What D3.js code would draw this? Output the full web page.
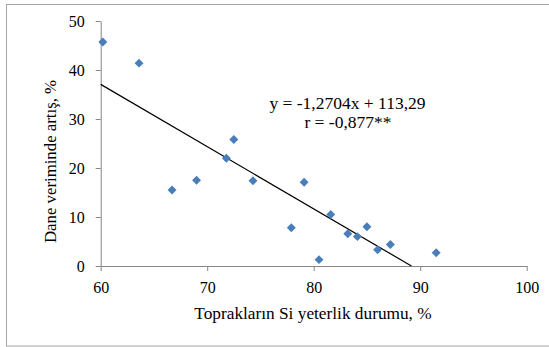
<!DOCTYPE html>
<html><head><meta charset="utf-8">
<script src="https://cdn.jsdelivr.net/npm/d3@7"></script>
<style>
html,body{margin:0;padding:0;background:#fff;}
svg{display:block;}
text{font-family:"Liberation Serif","Times New Roman",serif;fill:#000;}
</style></head>
<body>
<svg id="c" width="549" height="347"></svg>
<script>
const xValues = [60.2, 63.6, 66.7, 69.0, 71.8, 72.5, 74.3, 77.9, 79.1, 81.6, 80.5, 83.2, 84.1, 85.0, 86.0, 87.2, 91.5];
const yValues = [45.7, 41.4, 15.5, 17.5, 22.0, 25.8, 17.4, 7.8, 17.1, 10.5, 1.3, 6.6, 6.0, 8.0, 3.3, 4.4, 2.7];
const xTicks = [60, 70, 80, 90, 100];
const yTicks = [0, 10, 20, 30, 40, 50];
const slope = -1.2704, intercept = 113.29;
const eqLabel = "y = -1,2704x + 113,29";
const rLabel = "r = -0,877**";
const xTitle = "Toprakların Si yeterlik durumu, %";
const yTitle = "Dane veriminde artış, %";

const svg = d3.select("#c");
svg.append("rect").attr("x",6.5).attr("y",4.5).attr("width",560).attr("height",341.5)
  .attr("fill","#fff").attr("stroke","#a6a6a6").attr("stroke-width",1);

const x = d3.scaleLinear().domain([60,100]).range([100.7,526.7]);
const y = d3.scaleLinear().domain([0,50]).range([266,21]);

const axisColor = "#868686";
const gx = svg.append("g").attr("transform","translate(0,266)")
  .call(d3.axisBottom(x).tickValues(xTicks).tickSize(5).tickSizeOuter(0).tickPadding(10.5));
const gy = svg.append("g").attr("transform","translate(100.7,0)")
  .call(d3.axisLeft(y).tickValues(yTicks).tickSize(5).tickSizeOuter(0).tickPadding(11));
[gx,gy].forEach(g=>{
  g.select(".domain").attr("stroke",axisColor);
  g.selectAll(".tick line").attr("stroke",axisColor);
  g.selectAll(".tick text").attr("font-size",16).attr("font-family","Liberation Serif").attr("fill","#000");
});

// trend line
const xEnd = -intercept/slope;
svg.append("line")
  .attr("x1",x(60)).attr("y1",y(slope*60+intercept))
  .attr("x2",x(xEnd)).attr("y2",y(0))
  .attr("stroke","#000").attr("stroke-width",1.2);

// points
const sym = d3.symbol(d3.symbolSquare, 40);
svg.append("g").selectAll("path").data(xValues.map((v,i)=>[v,yValues[i]])).join("path")
  .attr("d",sym)
  .attr("transform",d=>`translate(${x(d[0])},${y(d[1])}) rotate(45)`)
  .attr("fill","#4a7ebb");

// labels
svg.append("text").attr("x",347.5).attr("y",109).attr("text-anchor","middle").attr("font-size",17.5).text(eqLabel);
svg.append("text").attr("x",348).attr("y",128).attr("text-anchor","middle").attr("font-size",17.5).text(rLabel);
svg.append("text").attr("x",313).attr("y",319).attr("text-anchor","middle").attr("font-size",17.3).text(xTitle);
svg.append("text").attr("transform","translate(56,161.5) rotate(-90)").attr("text-anchor","middle").attr("font-size",16.8).text(yTitle);
</script>
</body></html>
